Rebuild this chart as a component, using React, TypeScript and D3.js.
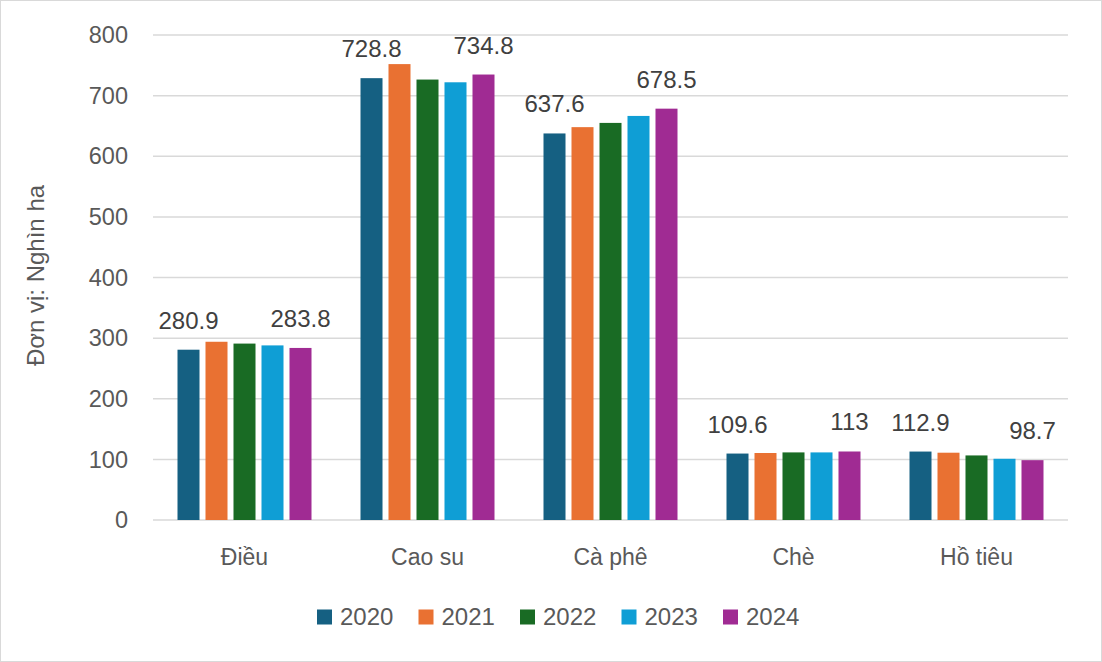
import * as d3 from 'd3';

const width = 1102;
const height = 662;
const margin = { top: 35, right: 34, bottom: 142, left: 153 };

const categories = ['Điều', 'Cao su', 'Cà phê', 'Chè', 'Hồ tiêu'];
const years = ['2020', '2021', '2022', '2023', '2024'];
const colors = ['#156082', '#E97132', '#196B24', '#0F9ED5', '#A02B93'];

// one array per year, in category order
const v2020 = [280.9, 728.8, 637.6, 109.6, 112.9];
const v2021 = [294, 752, 648, 110.5, 111];
const v2022 = [291, 726.5, 655, 111.5, 106.5];
const v2023 = [288, 722, 666.5, 111.5, 101];
const v2024 = [283.8, 734.8, 678.5, 113, 98.7];
const series = [v2020, v2021, v2022, v2023, v2024];

// only first and last year are labelled
const labelled = ['2020', '2024'];
const yTicks = [0, 100, 200, 300, 400, 500, 600, 700, 800];

const textColor = '#595959';
const font = '"Liberation Sans", Arial, sans-serif';

export default function App() {
  const x0 = d3
    .scaleBand()
    .domain(categories)
    .range([margin.left, width - margin.right])
    .paddingInner(0.235)
    .paddingOuter(0.1175);
  const x1 = d3
    .scaleBand()
    .domain(years)
    .range([0, x0.bandwidth()])
    .paddingInner(0.214)
    .paddingOuter(0.107);
  const y = d3
    .scaleLinear()
    .domain([0, 800])
    .range([height - margin.bottom, margin.top]);

  const legendX = d3.scaleBand().domain(years).range([317, 317 + 5 * 101.5]);

  return (
    <svg
      width={width}
      height={height}
      style={{ position: 'absolute', left: 0, top: 0, fontFamily: font }}
    >
      <rect x={0.5} y={0.5} width={width - 1} height={height - 1} fill="#fff" stroke="#d9d9d9" />

      {yTicks.map((t) => (
        <g key={t}>
          <line
            x1={margin.left}
            x2={width - margin.right}
            y1={y(t)}
            y2={y(t)}
            stroke="#d9d9d9"
            strokeWidth={1.5}
          />
          <text
            x={128}
            y={y(t)}
            dy="0.35em"
            textAnchor="end"
            fontSize={23.5}
            fill={textColor}
          >
            {t}
          </text>
        </g>
      ))}

      <text
        transform={`translate(36,${y(400) - 2}) rotate(-90)`}
        textAnchor="middle"
        dy="0.35em"
        fontSize={24}
        fill={textColor}
      >
        Đơn vị: Nghìn ha
      </text>

      {categories.map((c, ci) => (
        <g key={c} transform={`translate(${x0(c)},0)`}>
          {years.map((yr, si) => {
            const v = series[si][ci];
            return (
              <g key={yr}>
                <rect
                  x={x1(yr)}
                  y={y(v)}
                  width={x1.bandwidth()}
                  height={y(0) - y(v)}
                  fill={colors[si]}
                />
                {labelled.includes(yr) && (
                  <text
                    x={(x1(yr) ?? 0) + x1.bandwidth() / 2}
                    y={y(v) - 21}
                    textAnchor="middle"
                    fontSize={24}
                    fill="#404040"
                  >
                    {v}
                  </text>
                )}
              </g>
            );
          })}
          <text
            x={x0.bandwidth() / 2}
            y={y(0) + 37}
            dy="0.35em"
            textAnchor="middle"
            fontSize={23}
            fill={textColor}
          >
            {c}
          </text>
        </g>
      ))}

      {years.map((yr, i) => (
        <g key={yr} transform={`translate(${legendX(yr)},617)`}>
          <rect x={0} y={-7.5} width={15} height={15} fill={colors[i]} />
          <text x={23} y={0} dy="0.35em" fontSize={24} fill={textColor}>
            {yr}
          </text>
        </g>
      ))}
    </svg>
  );
}
